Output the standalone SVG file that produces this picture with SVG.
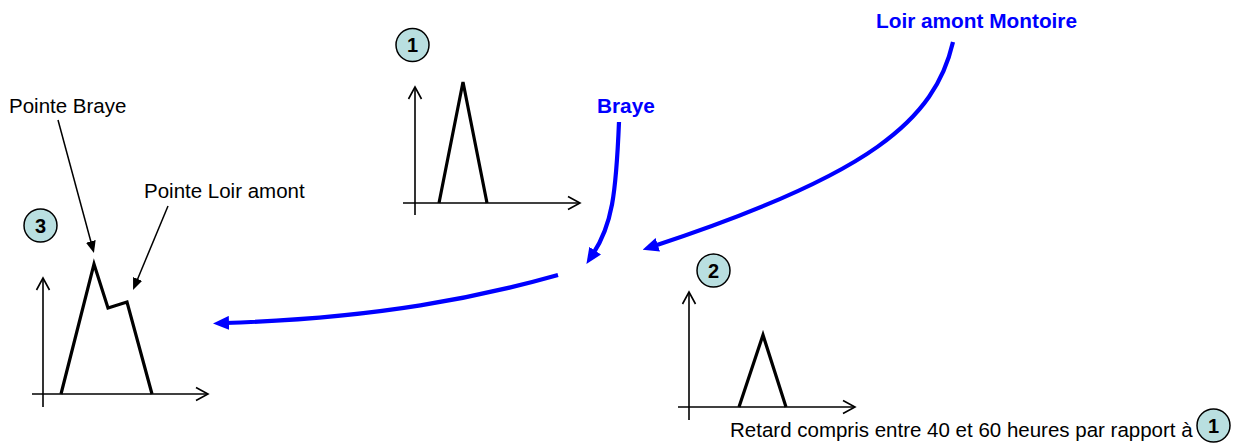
<svg xmlns="http://www.w3.org/2000/svg" width="1250" height="443" viewBox="0 0 1250 443">
<style>
.lbl{font-family:"Liberation Sans",Arial,sans-serif;font-size:20.5px;fill:#000}
.blue{font-family:"Liberation Sans",Arial,sans-serif;font-size:20.8px;font-weight:bold;fill:#0000FF}
.num{font-family:"Liberation Sans",Arial,sans-serif;font-size:20px;font-weight:bold;fill:#000;text-anchor:middle}
.circ{fill:#B9DFE0;stroke:#000;stroke-width:1.5}
.axis{fill:none;stroke:#000;stroke-width:1.6;marker-end:url(#open)}
.peak{fill:none;stroke:#000;stroke-width:3.2;stroke-linejoin:miter}
.flow{fill:none;stroke:#0000FF;stroke-width:4.2;marker-end:url(#bhead)}
.ptr{fill:none;stroke:#000;stroke-width:1.5;marker-end:url(#khead)}
</style>
<defs>
<marker id="open" markerUnits="userSpaceOnUse" viewBox="-1 -1 15 15" markerWidth="15" markerHeight="15" refX="12" refY="6.5" orient="auto" overflow="visible">
<path d="M0,0 L12,6.5 L0,13" fill="none" stroke="#000" stroke-width="1.6"/>
</marker>
<marker id="bhead" markerUnits="userSpaceOnUse" viewBox="0 0 16 14" markerWidth="16" markerHeight="14" refX="4" refY="7" orient="auto">
<path d="M0,0 L16,7 L0,14 z" fill="#0000FF"/>
</marker>
<marker id="khead" markerUnits="userSpaceOnUse" viewBox="0 0 12 10" markerWidth="12" markerHeight="10" refX="3" refY="5" orient="auto">
<path d="M0,0 L12,5 L0,10 z" fill="#000"/>
</marker>
</defs>

<g id="chart1">
<circle class="circ" cx="412.5" cy="45" r="16.5"/>
<text class="num" x="412.5" y="52">1</text>
<path class="axis" d="M415,215 L415,87"/>
<path class="axis" d="M403,203 L580,203"/>
<path class="peak" d="M439,203 L463,82 L487,203"/>
</g>

<g id="chart3">
<circle class="circ" cx="40.5" cy="225.5" r="16.5"/>
<text class="num" x="40.5" y="232.5">3</text>
<path class="axis" d="M43,407 L43,278"/>
<path class="axis" d="M32,394 L208,394"/>
<path class="peak" d="M61,394 L94,264 L108,308 L127,302 L152,394"/>
</g>

<g id="chart2">
<circle class="circ" cx="713.5" cy="270.5" r="16.5"/>
<text class="num" x="713.5" y="277.5">2</text>
<path class="axis" d="M689,420 L689,292"/>
<path class="axis" d="M678,407 L855,407"/>
<path class="peak" d="M739,407 L763,335 L786,407"/>
</g>

<g id="label-pointe-braye">
<text class="lbl" x="9" y="113">Pointe Braye</text>
</g>
<g id="label-pointe-loir">
<text class="lbl" x="144" y="198">Pointe Loir amont</text>
</g>
<g id="label-braye">
<text class="blue" x="597" y="113">Braye</text>
</g>
<g id="label-loir-montoire">
<text class="blue" x="876" y="28">Loir amont Montoire</text>
</g>
<g id="note-retard">
<text class="lbl" x="730" y="437">Retard compris entre 40 et 60 heures par rapport à</text>
<circle class="circ" cx="1213.5" cy="425.5" r="16.5"/>
<text class="num" x="1213.5" y="432.5">1</text>
</g>

<g id="connectors">
<path class="ptr" d="M58,120 L91.6,244.3"/>
<path class="ptr" d="M168,206 L136.5,281.7"/>
<path class="flow" d="M619,122 C616,195 612,225 593,254"/>
<path class="flow" d="M953,42 C935,120 870,175 654,246"/>
<path class="flow" d="M558,275 C480,297 380,318 225,323"/>
</g>
</svg>
